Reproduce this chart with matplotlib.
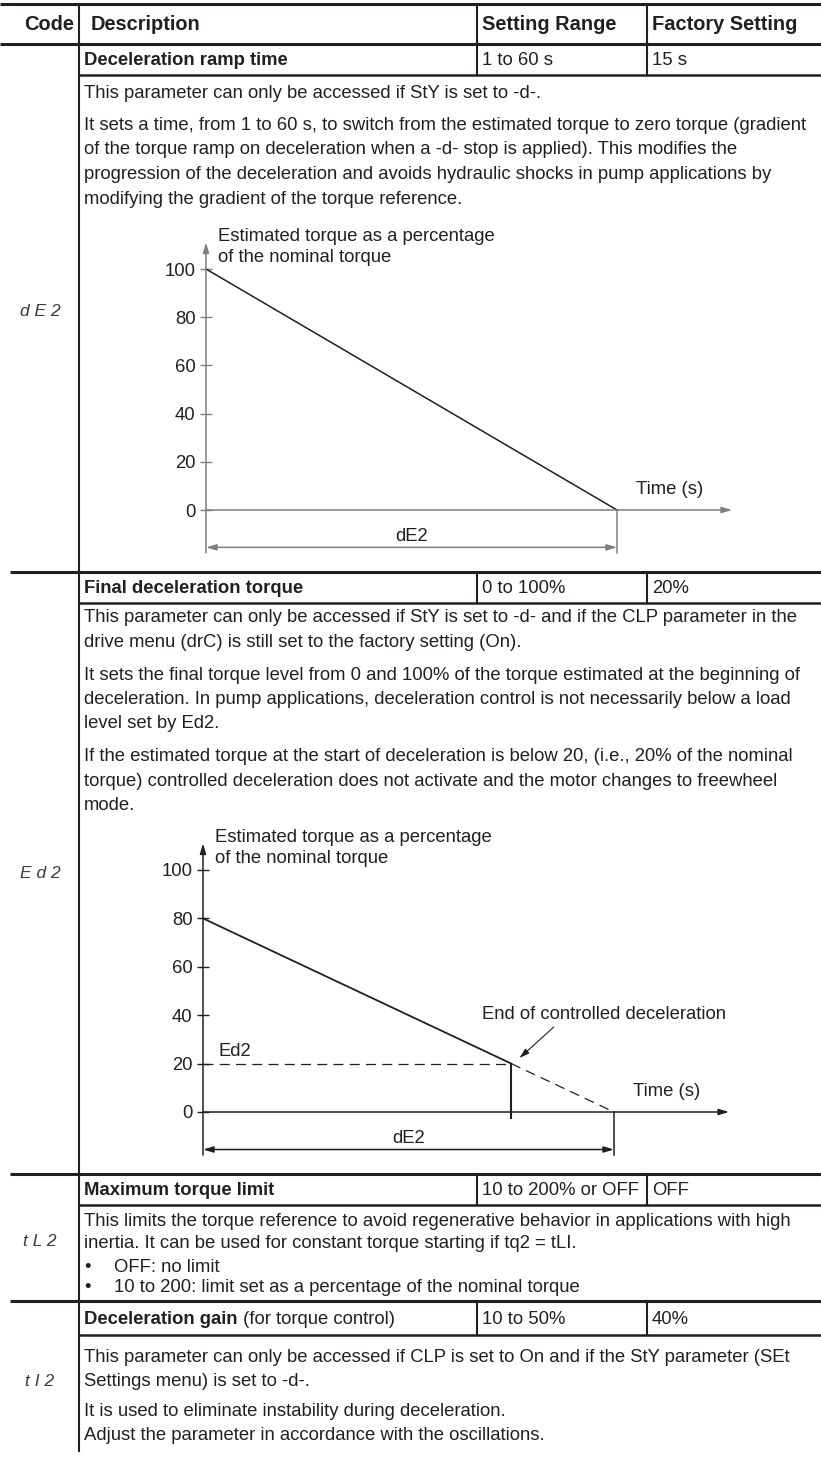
import matplotlib
matplotlib.use('Agg')
import matplotlib.pyplot as plt

plt.rcParams['font.family'] = ['Liberation Sans', 'DejaVu Sans']

W, H = 821, 1459
INK = '#231f20'
BODY = 13.3

# ---- table content ----
headers = ['Code', 'Description', 'Setting Range', 'Factory Setting']
codes = ['d E 2', 'E d 2', 't L 2', 't I 2']
names = ['Deceleration ramp time', 'Final deceleration torque',
         'Maximum torque limit', 'Deceleration gain']
name_notes = ['', '', '', ' (for torque control)']
setting_ranges = ['1 to 60 s', '0 to 100%', '10 to 200% or OFF', '10 to 50%']
factory_settings = ['15 s', '20%', 'OFF', '40%']

dE2_paras = [
    ['This parameter can only be accessed if StY is set to -d-.'],
    ['It sets a time, from 1 to 60 s, to switch from the estimated torque to zero torque (gradient',
     'of the torque ramp on deceleration when a -d- stop is applied). This modifies the',
     'progression of the deceleration and avoids hydraulic shocks in pump applications by',
     'modifying the gradient of the torque reference.'],
]
Ed2_paras = [
    ['This parameter can only be accessed if StY is set to -d- and if the CLP parameter in the',
     'drive menu (drC) is still set to the factory setting (On).'],
    ['It sets the final torque level from 0 and 100% of the torque estimated at the beginning of',
     'deceleration. In pump applications, deceleration control is not necessarily below a load',
     'level set by Ed2.'],
    ['If the estimated torque at the start of deceleration is below 20, (i.e., 20% of the nominal',
     'torque) controlled deceleration does not activate and the motor changes to freewheel',
     'mode.'],
]
tL2_paras = [
    ['This limits the torque reference to avoid regenerative behavior in applications with high',
     'inertia. It can be used for constant torque starting if tq2 = tLI.'],
]
tL2_bullets = ['OFF: no limit', '10 to 200: limit set as a percentage of the nominal torque']
tI2_paras = [
    ['This parameter can only be accessed if CLP is set to On and if the StY parameter (SEt',
     'Settings menu) is set to -d-.'],
    ['It is used to eliminate instability during deceleration.',
     'Adjust the parameter in accordance with the oscillations.'],
]

# ---- chart data (torque in % of nominal, time in s) ----
torque_ticks = [0, 20, 40, 60, 80, 100]
ramp_time = [0, 15]
ramp_torque = [100, 0]
ctrl_time = [0, 11.25]
ctrl_torque = [80, 20]
free_time = [11.25, 15]
free_torque = [20, 0]
ed2_level = 20
y_label = ['Estimated torque as a percentage', 'of the nominal torque']

fig = plt.figure(figsize=(W / 100, H / 100), dpi=100)
page = fig.add_axes([0, 0, 1, 1])
page.set_xlim(0, W)
page.set_ylim(H, 0)
page.axis('off')

COL_DESC, COL_RANGE, COL_FACT = 79, 477, 647


def txt(x, y, s, **kw):
    kw.setdefault('fontsize', BODY)
    kw.setdefault('color', INK)
    kw.setdefault('va', 'center')
    return page.text(x, y, s, **kw)


# header
page.plot([0, W], [4, 4], color=INK, lw=2.2, solid_capstyle='butt')
page.plot([0, W], [44, 44], color=INK, lw=2.2, solid_capstyle='butt')
page.plot([COL_DESC, COL_DESC], [4, 1451], color=INK, lw=1.5)
for xc in (COL_RANGE, COL_FACT):
    page.plot([xc, xc], [4, 44], color=INK, lw=1.5)
HEAD = 14.4
txt(74, 25, headers[0], ha='right', fontweight='bold', fontsize=HEAD)
txt(91, 25, headers[1], fontweight='bold', fontsize=HEAD)
txt(COL_RANGE + 5, 25, headers[2], fontweight='bold', fontsize=HEAD)
txt(COL_FACT + 5, 25, headers[3], fontweight='bold', fontsize=HEAD)

# parameter rows: (top, bottom) of the name row, block end, code y
rows = [(44, 75, 572, 311), (572, 603, 1174, 873), (1174, 1205, 1301, 1241), (1301, 1335, 1451, 1382)]
renderer = fig.canvas.get_renderer()
for i, (top, bot, end, cy) in enumerate(rows):
    if i > 0:
        page.plot([10, W], [top, top], color=INK, lw=2.2, solid_capstyle='butt')
    page.plot([COL_DESC, W], [bot, bot], color=INK, lw=1.8, solid_capstyle='butt')
    for xc in (COL_RANGE, COL_FACT):
        page.plot([xc, xc], [top, bot], color=INK, lw=1.5)
    ym = (top + bot) / 2 + 1
    t = txt(84, ym, names[i], fontweight='bold')
    if name_notes[i]:
        bb = t.get_window_extent(renderer).transformed(page.transData.inverted())
        txt(bb.x1, ym, name_notes[i])
    txt(COL_RANGE + 5, ym, setting_ranges[i])
    txt(COL_FACT + 5, ym, factory_settings[i])
    txt(40, cy, codes[i], ha='center', fontsize=12.5, style='italic', color='#3a3a3a')


def paragraphs(paras, y0, step=24.5, gap=32.5):
    y = y0
    for p in paras:
        for line in p:
            txt(84, y, line)
            y += step
        y += gap - step
    return y


paragraphs(dE2_paras, 93)
paragraphs(Ed2_paras, 618)
paragraphs(tL2_paras, 1221, step=23)
for k, b in enumerate(tL2_bullets):
    txt(84, 1267 + 20 * k, '\u2022')
    txt(114, 1267 + 20 * k, b)
paragraphs(tI2_paras, 1357, step=24, gap=30)


def chart(x0, y0, y100, axis_color):
    ax = fig.add_axes([x0 / W, 1 - y0 / H, 411 / W, (y0 - y100) / H])
    ax.set_xlim(0, 15)
    ax.set_ylim(0, 100)
    ax.patch.set_visible(False)
    for s in ax.spines.values():
        s.set_visible(False)
    ax.set_xticks([])
    ax.set_yticks(torque_ticks)
    ax.tick_params(axis='y', direction='inout', length=9, width=1.0,
                   color=axis_color, labelsize=BODY, labelcolor=INK, pad=3)
    head = dict(arrowstyle='-|>,head_length=0.6,head_width=0.18', color=axis_color,
                lw=1.1, shrinkA=0, shrinkB=0)
    ax.annotate('', xy=(0, 111), xytext=(0, -17.8), arrowprops=head, annotation_clip=False)
    ax.annotate('', xy=(19.2, 0), xytext=(0, 0), arrowprops=head, annotation_clip=False)
    # dE2 dimension
    ax.plot([15, 15], [0, -17.8], color=axis_color, lw=1.1, clip_on=False)
    dim = dict(arrowstyle='<|-|>,head_length=0.6,head_width=0.18', color=axis_color,
               lw=1.1, shrinkA=0, shrinkB=0)
    ax.annotate('', xy=(15, -15.5), xytext=(0, -15.5), arrowprops=dim, annotation_clip=False)
    ax.text(7.5, -10.8, 'dE2', ha='center', va='center', fontsize=BODY, color=INK, clip_on=False)
    ax.text(15.7, 8.3, 'Time (s)', ha='left', va='center', fontsize=BODY, color=INK, clip_on=False)
    ax.text(0.45, 113.6, y_label[0], ha='left', va='center', fontsize=BODY, color=INK, clip_on=False)
    ax.text(0.45, 104.8, y_label[1], ha='left', va='center', fontsize=BODY, color=INK, clip_on=False)
    return ax


ax1 = chart(206, 510, 269, '#7f7f7f')
ax1.plot(ramp_time, ramp_torque, color=INK, lw=1.1, clip_on=False)

ax2 = chart(203, 1112, 870, '#231f20')
ax2.plot(ctrl_time, ctrl_torque, color=INK, lw=1.3, clip_on=False)
ax2.plot(free_time, free_torque, color=INK, lw=0.9, ls=(0, (8, 5)), clip_on=False)
ax2.plot([0, ctrl_time[-1]], [ed2_level, ed2_level], color=INK, lw=0.9, ls=(0, (8, 5)))
ax2.plot([ctrl_time[-1], ctrl_time[-1]], [ed2_level, -2.5], color=INK, lw=1.5, clip_on=False)
ax2.text(0.55, 25.2, 'Ed2', ha='left', va='center', fontsize=BODY, color=INK)
ax2.text(10.2, 40.1, 'End of controlled deceleration', ha='left', va='center',
         fontsize=BODY, color=INK, clip_on=False)
ax2.annotate('', xy=(ctrl_time[-1] + 0.3, ed2_level + 2.3), xytext=(12.8, 35.1),
             arrowprops=dict(arrowstyle='-|>,head_length=0.6,head_width=0.18',
                             color=INK, lw=0.8, shrinkA=0, shrinkB=0))

fig.savefig('out.png', dpi=100)
